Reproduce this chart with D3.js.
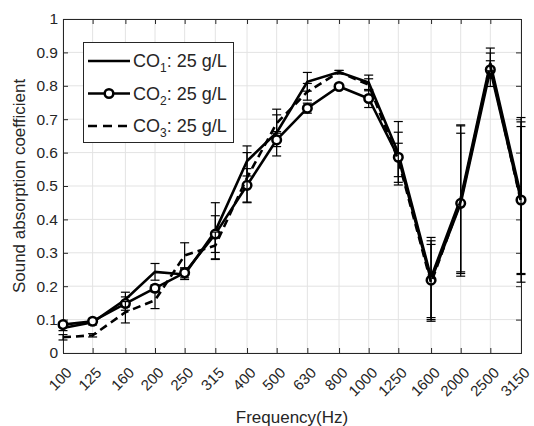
<!DOCTYPE html>
<html>
<head>
<meta charset="utf-8">
<script src="https://cdn.jsdelivr.net/npm/d3@7"></script>
<style>
  body { margin: 0; background: #fff; }
  svg text { font-family: "Liberation Sans", Arial, Helvetica, sans-serif; fill: #262626; }
</style>
</head>
<body>
<svg id="chart" width="534" height="426"></svg>
<script>
// frequencies (Hz), log axis
const freqs = [100, 125, 160, 200, 250, 315, 400, 500, 630, 800, 1000, 1250, 1600, 2000, 2500, 3150];

// sound absorption coefficient per sample, with error bar half-widths
const co1 = [0.075, 0.092, 0.160, 0.243, 0.235, 0.365, 0.575, 0.660, 0.812, 0.841, 0.810, 0.598, 0.226, 0.463, 0.868, 0.470];
const co1Err = [0.008, 0.008, 0.022, 0.025, 0.015, 0.085, 0.045, 0.070, 0.028, 0.005, 0.022, 0.095, 0.120, 0.220, 0.045, 0.235];

const co2 = [0.085, 0.095, 0.148, 0.194, 0.240, 0.356, 0.502, 0.638, 0.733, 0.798, 0.762, 0.586, 0.218, 0.448, 0.848, 0.458];
const co2Err = [0.008, 0.006, 0.020, 0.010, 0.015, 0.055, 0.050, 0.020, 0.015, 0.005, 0.027, 0.075, 0.118, 0.210, 0.050, 0.220];

const co3 = [0.047, 0.053, 0.122, 0.158, 0.292, 0.322, 0.525, 0.688, 0.782, 0.841, 0.803, 0.578, 0.210, 0.455, 0.860, 0.452];
const co3Err = [0.008, 0.005, 0.032, 0.025, 0.038, 0.040, 0.075, 0.025, 0.025, 0.005, 0.018, 0.050, 0.115, 0.225, 0.015, 0.240];

const yTicks = [0, 0.1, 0.2, 0.3, 0.4, 0.5, 0.6, 0.7, 0.8, 0.9, 1];
const legendSub = ["1", "2", "3"];

var margin = { top: 19, right: 13, bottom: 73, left: 63 },
  width = 534 - margin.left - margin.right,
  height = 426 - margin.top - margin.bottom;

const svg = d3.select("#chart")
  .append("g")
  .attr("transform", "translate(" + margin.left + "," + margin.top + ")");

let x = d3.scaleLog().domain([100, 3150]).range([0, width]);
let y = d3.scaleLinear().domain([0, 1]).range([height, 0]);

// grid
svg.append("g").selectAll("line").data(freqs).enter().append("line")
  .attr("x1", (d) => x(d)).attr("x2", (d) => x(d))
  .attr("y1", 0).attr("y2", height)
  .attr("stroke", "#e3e3e3").attr("stroke-width", 1);
svg.append("g").selectAll("line").data(yTicks).enter().append("line")
  .attr("x1", 0).attr("x2", width)
  .attr("y1", (d) => y(d)).attr("y2", (d) => y(d))
  .attr("stroke", "#e3e3e3").attr("stroke-width", 1);

// axes (ticks inside, box all round)
const tl = 5;
const xAxis = svg.append("g").attr("transform", "translate(0," + height + ")")
  .call(d3.axisBottom(x).tickValues(freqs).tickSize(-tl).tickFormat(""));
const xTop = svg.append("g")
  .call(d3.axisTop(x).tickValues(freqs).tickSize(-tl).tickFormat(""));
const yAxis = svg.append("g")
  .call(d3.axisLeft(y).tickValues(yTicks).tickSize(-tl).tickPadding(5).tickFormat(d3.format("")));
const yRight = svg.append("g").attr("transform", "translate(" + width + ",0)")
  .call(d3.axisRight(y).tickValues(yTicks).tickSize(-tl).tickFormat(""));
[xAxis, xTop, yAxis, yRight].forEach((a) => {
  a.selectAll("path, line").attr("stroke", "#262626").attr("stroke-width", 1);
});
yAxis.selectAll("text").style("font-size", "15.5px").attr("fill", "#262626");

// rotated x tick labels
svg.append("g").selectAll("text").data(freqs).enter().append("text")
  .attr("transform", (d) => "translate(" + (x(d) + 6) + "," + (height + 17) + ") rotate(-45)")
  .attr("text-anchor", "end")
  .attr("dy", "0.35em")
  .style("font-size", "15px")
  .text((d) => d);

// axis titles
svg.append("text")
  .attr("x", width / 2).attr("y", height + 70)
  .attr("text-anchor", "middle")
  .style("font-size", "17px")
  .text("Frequency(Hz)");
svg.append("text")
  .attr("transform", "translate(" + (-38) + "," + (height / 2) + ") rotate(-90)")
  .attr("text-anchor", "middle")
  .style("font-size", "17px")
  .text("Sound absorption coefficient");

const series = [
  { vals: co1, err: co1Err, dash: null, marker: false },
  { vals: co2, err: co2Err, dash: null, marker: true },
  { vals: co3, err: co3Err, dash: "8,5", marker: false }
];

const line = d3.line().x((d) => x(d.f)).y((d) => y(d.v));
const capW = 4.5;
const lw = 2.6;

series.forEach((s) => {
  let pts = freqs.map((f, i) => ({ f: f, v: s.vals[i], e: s.err[i] }));

  // error bars
  let eb = svg.append("g").attr("stroke", "#000").attr("stroke-width", 1.2);
  eb.selectAll(".v").data(pts).enter().append("line")
    .attr("x1", (d) => x(d.f)).attr("x2", (d) => x(d.f))
    .attr("y1", (d) => y(d.v - d.e)).attr("y2", (d) => y(d.v + d.e));
  eb.selectAll(".t").data(pts).enter().append("line")
    .attr("x1", (d) => x(d.f) - capW).attr("x2", (d) => x(d.f) + capW)
    .attr("y1", (d) => y(d.v + d.e)).attr("y2", (d) => y(d.v + d.e));
  eb.selectAll(".b").data(pts).enter().append("line")
    .attr("x1", (d) => x(d.f) - capW).attr("x2", (d) => x(d.f) + capW)
    .attr("y1", (d) => y(d.v - d.e)).attr("y2", (d) => y(d.v - d.e));

  svg.append("path")
    .datum(pts)
    .attr("d", line)
    .attr("fill", "none")
    .attr("stroke", "#000")
    .attr("stroke-width", lw)
    .attr("stroke-dasharray", s.dash);

  if (s.marker) {
    svg.append("g").selectAll("circle").data(pts).enter().append("circle")
      .attr("cx", (d) => x(d.f)).attr("cy", (d) => y(d.v))
      .attr("r", 4.3)
      .attr("fill", "#fff")
      .attr("stroke", "#000")
      .attr("stroke-width", 2.5);
  }
});

// legend
const lg = d3.select("#chart").append("g");
lg.append("rect")
  .attr("x", 83.5).attr("y", 42.5).attr("width", 150).attr("height", 100)
  .attr("fill", "#fff").attr("stroke", "#262626").attr("stroke-width", 1);
series.forEach((s, i) => {
  let ry = 61 + i * 32.5;
  lg.append("line")
    .attr("x1", 88).attr("x2", 130).attr("y1", ry).attr("y2", ry)
    .attr("stroke", "#000").attr("stroke-width", lw)
    .attr("stroke-dasharray", s.dash ? "9,6" : null);
  if (s.marker) {
    lg.append("circle").attr("cx", 109).attr("cy", ry).attr("r", 4.3)
      .attr("fill", "#fff").attr("stroke", "#000").attr("stroke-width", 2.5);
  }
  let t = lg.append("text").attr("x", 133).attr("y", ry + 6).style("font-size", "18px").attr("fill", "#000");
  t.append("tspan").text("CO");
  t.append("tspan").attr("dy", 5).style("font-size", "12px").text(legendSub[i]);
  t.append("tspan").attr("dy", -5).text(": 25 g/L");
});
</script>
</body>
</html>
